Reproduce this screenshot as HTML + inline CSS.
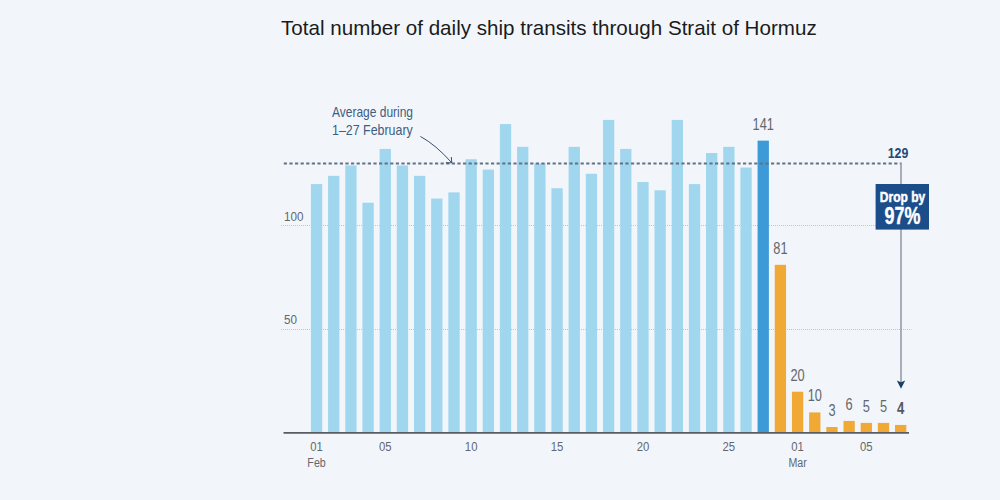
<!DOCTYPE html>
<html><head><meta charset="utf-8"><style>
html,body{margin:0;padding:0;}
body{width:1000px;height:500px;background:#f2f6fb;overflow:hidden;font-family:"Liberation Sans",sans-serif;}
svg{display:block;}
text{font-family:"Liberation Sans",sans-serif;}
</style></head><body>
<svg width="1000" height="500" viewBox="0 0 1000 500">
<text x="281" y="35" font-size="20.6" fill="#1b1b1b">Total number of daily ship transits through Strait of Hormuz</text>
<line x1="281" y1="225.5" x2="911.5" y2="225.5" stroke="#bfc4ca" stroke-width="1" stroke-dasharray="1 1"/>
<line x1="281" y1="329.5" x2="911.5" y2="329.5" stroke="#bfc4ca" stroke-width="1" stroke-dasharray="1 1"/>
<text transform="translate(284.00 220.60) scale(0.86 1)" text-anchor="start" font-size="13.6" font-weight="400" fill="#63676c" >100</text>
<text transform="translate(284.00 324.00) scale(0.86 1)" text-anchor="start" font-size="13.6" font-weight="400" fill="#63676c" >50</text>
<rect x="310.90" y="184.10" width="11.3" height="248.40" fill="#a0d6ee"/>
<rect x="328.08" y="175.82" width="11.3" height="256.68" fill="#a0d6ee"/>
<rect x="345.26" y="165.47" width="11.3" height="267.03" fill="#a0d6ee"/>
<rect x="362.44" y="202.73" width="11.3" height="229.77" fill="#a0d6ee"/>
<rect x="379.62" y="148.91" width="11.3" height="283.59" fill="#a0d6ee"/>
<rect x="396.80" y="165.47" width="11.3" height="267.03" fill="#a0d6ee"/>
<rect x="413.98" y="175.82" width="11.3" height="256.68" fill="#a0d6ee"/>
<rect x="431.16" y="198.59" width="11.3" height="233.91" fill="#a0d6ee"/>
<rect x="448.34" y="192.38" width="11.3" height="240.12" fill="#a0d6ee"/>
<rect x="465.52" y="159.26" width="11.3" height="273.24" fill="#a0d6ee"/>
<rect x="482.70" y="169.61" width="11.3" height="262.89" fill="#a0d6ee"/>
<rect x="499.88" y="124.07" width="11.3" height="308.43" fill="#a0d6ee"/>
<rect x="517.06" y="146.84" width="11.3" height="285.66" fill="#a0d6ee"/>
<rect x="534.24" y="163.40" width="11.3" height="269.10" fill="#a0d6ee"/>
<rect x="551.42" y="188.24" width="11.3" height="244.26" fill="#a0d6ee"/>
<rect x="568.60" y="146.84" width="11.3" height="285.66" fill="#a0d6ee"/>
<rect x="585.78" y="173.75" width="11.3" height="258.75" fill="#a0d6ee"/>
<rect x="602.96" y="119.93" width="11.3" height="312.57" fill="#a0d6ee"/>
<rect x="620.14" y="148.91" width="11.3" height="283.59" fill="#a0d6ee"/>
<rect x="637.32" y="182.03" width="11.3" height="250.47" fill="#a0d6ee"/>
<rect x="654.50" y="190.31" width="11.3" height="242.19" fill="#a0d6ee"/>
<rect x="671.68" y="119.93" width="11.3" height="312.57" fill="#a0d6ee"/>
<rect x="688.86" y="184.10" width="11.3" height="248.40" fill="#a0d6ee"/>
<rect x="706.04" y="153.05" width="11.3" height="279.45" fill="#a0d6ee"/>
<rect x="723.22" y="146.84" width="11.3" height="285.66" fill="#a0d6ee"/>
<rect x="740.40" y="167.54" width="11.3" height="264.96" fill="#a0d6ee"/>
<rect x="757.58" y="140.63" width="11.3" height="291.87" fill="#3c9ad7"/>
<rect x="774.76" y="264.83" width="11.3" height="167.67" fill="#f1a936"/>
<rect x="791.94" y="391.72" width="11.3" height="40.78" fill="#f1a936"/>
<rect x="809.12" y="412.42" width="11.3" height="20.08" fill="#f1a936"/>
<rect x="826.30" y="427.01" width="11.3" height="5.49" fill="#f1a936"/>
<rect x="843.48" y="420.91" width="11.3" height="11.59" fill="#f1a936"/>
<rect x="860.66" y="422.87" width="11.3" height="9.63" fill="#f1a936"/>
<rect x="877.84" y="422.87" width="11.3" height="9.63" fill="#f1a936"/>
<rect x="895.02" y="424.94" width="11.3" height="7.56" fill="#f1a936"/>
<line x1="283.5" y1="432.8" x2="909" y2="432.8" stroke="#575d62" stroke-width="1.8"/>
<text transform="translate(763.23 129.63) scale(0.8 1)" text-anchor="middle" font-size="16" font-weight="400" fill="#63676c" >141</text>
<text transform="translate(780.41 253.83) scale(0.8 1)" text-anchor="middle" font-size="16" font-weight="400" fill="#63676c" >81</text>
<text transform="translate(797.59 380.72) scale(0.8 1)" text-anchor="middle" font-size="16" font-weight="400" fill="#63676c" >20</text>
<text transform="translate(814.77 401.42) scale(0.8 1)" text-anchor="middle" font-size="16" font-weight="400" fill="#63676c" >10</text>
<text transform="translate(831.95 416.01) scale(0.8 1)" text-anchor="middle" font-size="16" font-weight="400" fill="#63676c" >3</text>
<text transform="translate(849.13 409.91) scale(0.8 1)" text-anchor="middle" font-size="16" font-weight="400" fill="#63676c" >6</text>
<text transform="translate(866.31 411.87) scale(0.8 1)" text-anchor="middle" font-size="16" font-weight="400" fill="#63676c" >5</text>
<text transform="translate(883.49 411.87) scale(0.8 1)" text-anchor="middle" font-size="16" font-weight="400" fill="#63676c" >5</text>
<text transform="translate(900.67 413.94) scale(0.82 1)" text-anchor="middle" font-size="16" font-weight="700" fill="#55595e" >4</text>
<text transform="translate(316.55 450.80) scale(0.84 1)" text-anchor="middle" font-size="13.5" font-weight="400" fill="#63676c" >01</text>
<text transform="translate(316.55 467.00) scale(0.79 1)" text-anchor="middle" font-size="13.5" font-weight="400" fill="#63676c" >Feb</text>
<text transform="translate(385.27 450.80) scale(0.84 1)" text-anchor="middle" font-size="13.5" font-weight="400" fill="#63676c" >05</text>
<text transform="translate(471.17 450.80) scale(0.84 1)" text-anchor="middle" font-size="13.5" font-weight="400" fill="#63676c" >10</text>
<text transform="translate(557.07 450.80) scale(0.84 1)" text-anchor="middle" font-size="13.5" font-weight="400" fill="#63676c" >15</text>
<text transform="translate(642.97 450.80) scale(0.84 1)" text-anchor="middle" font-size="13.5" font-weight="400" fill="#63676c" >20</text>
<text transform="translate(728.87 450.80) scale(0.84 1)" text-anchor="middle" font-size="13.5" font-weight="400" fill="#63676c" >25</text>
<text transform="translate(797.59 450.80) scale(0.84 1)" text-anchor="middle" font-size="13.5" font-weight="400" fill="#63676c" >01</text>
<text transform="translate(797.59 467.00) scale(0.79 1)" text-anchor="middle" font-size="13.5" font-weight="400" fill="#63676c" >Mar</text>
<text transform="translate(866.31 450.80) scale(0.84 1)" text-anchor="middle" font-size="13.5" font-weight="400" fill="#63676c" >05</text>
<line x1="283.8" y1="163.6" x2="901.5" y2="163.6" stroke="#627184" stroke-width="2" stroke-dasharray="3.2 2.4"/>
<line x1="901" y1="163" x2="901" y2="384" stroke="#959bab" stroke-width="1.6"/>
<path d="M896.8 380.6 L901 382.2 L905.2 380.6 L901 388.8 Z" fill="#1e3d63"/>
<text transform="translate(898.00 157.60) scale(0.85 1)" text-anchor="middle" font-size="14.5" font-weight="700" fill="#214a78" >129</text>
<rect x="875.6" y="184" width="53.4" height="45.6" fill="#1b4d8a"/>
<text transform="translate(902.50 201.80) scale(0.8 1)" text-anchor="middle" font-size="15" font-weight="700" fill="#ffffff" stroke="#ffffff" stroke-width="0.5">Drop by</text>
<text transform="translate(902.50 224.00) scale(0.78 1)" text-anchor="middle" font-size="23" font-weight="700" fill="#ffffff" stroke="#ffffff" stroke-width="0.4">97%</text>
<text transform="translate(332.00 117.00) scale(0.845 1)" text-anchor="start" font-size="14.2" font-weight="400" fill="#3f5d80" >Average during</text>
<text transform="translate(332.00 135.00) scale(0.875 1)" text-anchor="start" font-size="14.2" font-weight="400" fill="#3f5d80" >1–27 February</text>
<path d="M420.4 136.4 Q 436 145 451.6 162.6" fill="none" stroke="#37506e" stroke-width="1.0"/>
<path d="M445.8 162.8 L451.8 162.8 L451.3 157" fill="none" stroke="#37506e" stroke-width="1.0"/>
</svg>
</body></html>
